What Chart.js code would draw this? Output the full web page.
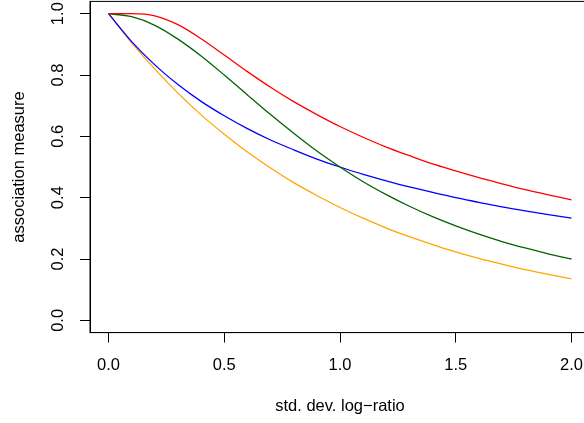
<!DOCTYPE html>
<html>
<head>
<meta charset="utf-8">
<script src="https://cdn.jsdelivr.net/npm/chart.js@4/dist/chart.umd.min.js"></script>
<style>
  html, body { margin: 0; padding: 0; background: #fff; overflow: hidden; }
  canvas { display: block; }
</style>
</head>
<body>
<canvas id="assocChart" width="600" height="423"></canvas>
<script>
// std. dev. of log-ratio (x positions of the sampled curve points)
const sigma = [0.0, 0.1, 0.2, 0.3, 0.4, 0.5, 0.6, 0.7, 0.8, 0.9, 1.0,
               1.1, 1.2, 1.3, 1.4, 1.5, 1.6, 1.7, 1.8, 1.9, 2.0];

// association measures
const redValues    = [1.000, 1.000, 0.993, 0.964, 0.918, 0.865, 0.811, 0.760, 0.713, 0.671, 0.632,
                      0.597, 0.565, 0.537, 0.510, 0.487, 0.465, 0.445, 0.426, 0.409, 0.393];
const greenValues  = [1.000, 0.990, 0.962, 0.917, 0.862, 0.800, 0.735, 0.671, 0.610, 0.552, 0.500,
                      0.452, 0.410, 0.372, 0.338, 0.308, 0.281, 0.257, 0.236, 0.217, 0.200];
const blueValues   = [1.000, 0.909, 0.833, 0.769, 0.714, 0.667, 0.625, 0.588, 0.556, 0.526, 0.500,
                      0.476, 0.455, 0.435, 0.417, 0.400, 0.385, 0.370, 0.357, 0.345, 0.333];
const orangeValues = [1.000, 0.905, 0.819, 0.741, 0.670, 0.607, 0.549, 0.497, 0.449, 0.407, 0.368,
                      0.333, 0.301, 0.273, 0.247, 0.223, 0.202, 0.183, 0.165, 0.150, 0.135];

const xTicks = [0.0, 0.5, 1.0, 1.5, 2.0];
const yTicks = [0.0, 0.2, 0.4, 0.6, 0.8, 1.0];

const FONT = { family: '"Liberation Sans", Arial, Helvetica, sans-serif', size: 16.5 };

const toPoints = (vals) => vals.map((v, i) => ({ x: sigma[i], y: v }));

const makeSet = (vals, color) => ({
    data: toPoints(vals),
    borderColor: color,
    borderWidth: 1.3,
    pointRadius: 0,
    fill: false,
    cubicInterpolationMode: 'monotone'
});

// draws the R-style box round the plotting region
const boxPlugin = {
    id: 'plotBox',
    afterDraw(chart) {
        const { ctx, chartArea: a } = chart;
        ctx.save();
        ctx.strokeStyle = '#000';
        ctx.lineWidth = 1;
        ctx.strokeRect(a.left, a.top, a.right - a.left, a.bottom - a.top);
        ctx.restore();
    }
};

Chart.defaults.color = '#000';
Chart.defaults.font.family = FONT.family;
Chart.defaults.font.size = FONT.size;

new Chart(document.getElementById('assocChart'), {
    type: 'line',
    data: {
        datasets: [
            makeSet(redValues, '#ff0000'),
            makeSet(greenValues, '#006400'),
            makeSet(blueValues, '#0000ff'),
            makeSet(orangeValues, '#ffa500')
        ]
    },
    options: {
        responsive: false,
        animation: false,
        layout: { padding: { top: 1.4, right: 10, left: 0, bottom: 0 } },
        plugins: { legend: { display: false }, tooltip: { enabled: false } },
        scales: {
            x: {
                type: 'linear',
                min: -0.08,
                max: 2.08,
                afterBuildTicks: (scale) => { scale.ticks = xTicks.map(v => ({ value: v })); },
                afterFit: (scale) => {
                    scale.height = 90.4;
                    scale.paddingLeft = 0;
                    scale.paddingRight = 0;
                },
                grid: { drawOnChartArea: false, drawTicks: true, tickLength: 10, color: '#000', lineWidth: 1 },
                border: { display: true, color: '#000', width: 1 },
                ticks: {
                    padding: 12.5,
                    maxRotation: 0,
                    minRotation: 0,
                    font: FONT,
                    callback: (v) => v.toFixed(1)
                },
                title: {
                    display: true,
                    text: 'std. dev. log\u2212ratio',
                    font: FONT,
                    padding: { top: 7, bottom: 7 }
                }
            },
            y: {
                type: 'linear',
                min: -0.04,
                max: 1.04,
                afterBuildTicks: (scale) => { scale.ticks = yTicks.map(v => ({ value: v })); },
                afterFit: (scale) => {
                    scale.width = 90;
                    scale.paddingTop = 0;
                    scale.paddingBottom = 0;
                },
                grid: { drawOnChartArea: false, drawTicks: true, tickLength: 10, color: '#000', lineWidth: 1 },
                border: { display: true, color: '#000', width: 1 },
                ticks: {
                    padding: 10.5,
                    minRotation: 90,
                    maxRotation: 90,
                    crossAlign: 'center',
                    font: FONT,
                    callback: (v) => v.toFixed(1)
                },
                title: {
                    display: true,
                    text: 'association measure',
                    font: FONT,
                    padding: { top: 10, bottom: 10 }
                }
            }
        }
    },
    plugins: [boxPlugin]
});
</script>
</body>
</html>
